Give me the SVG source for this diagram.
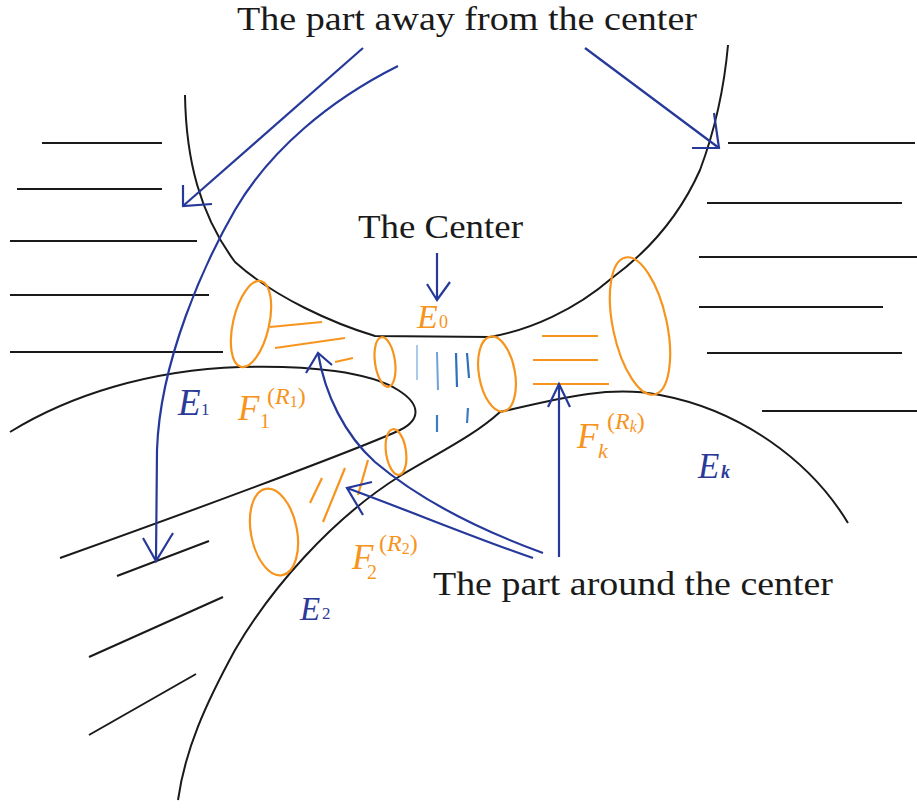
<svg xmlns="http://www.w3.org/2000/svg" width="917" height="809" viewBox="0 0 917 809">
<style>
.k{fill:none;stroke:#1a1a1a;stroke-width:2}
.o{fill:none;stroke:#f7941d;stroke-width:2.2}
.b{fill:none;stroke:#26399a;stroke-width:2.2;stroke-linejoin:miter}
.t{font-family:"Liberation Serif","Times New Roman",serif;fill:#1a1a1a}
.m{font-family:"Liberation Serif","Times New Roman",serif}
.or{fill:#f7941d}
.bl{fill:#2b3a98}
.i{font-style:italic}
</style>
<rect width="917" height="809" fill="#fff"/>

<g id="curves">
<path class="k" d="M185,95 C186,160 200,215 235,262 C275,298 335,324 375,336 L490,337 C530,330 575,310 612,278 C650,250 680,215 700,170 C715,130 724,90 728,45"/>
<path class="k" d="M10,432 C70,395 150,370 240,367 C310,365 370,372 398,390 C422,405 420,420 400,430 C370,444 250,490 60,558"/>
<path class="k" d="M500,412 C560,398 610,385 660,395 C740,410 810,460 848,523"/>
<path class="k" d="M500,412 C475,435 440,452 400,476 C330,520 270,590 235,650 C205,705 185,750 178,800"/>
</g>

<g id="hatching" class="k">
<line x1="42" y1="143" x2="162" y2="143"/>
<line x1="17" y1="189" x2="162" y2="189"/>
<line x1="10" y1="241" x2="197" y2="241"/>
<line x1="10" y1="295" x2="209" y2="295"/>
<line x1="10" y1="352" x2="223" y2="352"/>
<line x1="728" y1="143" x2="915" y2="143"/>
<line x1="707" y1="203" x2="902" y2="203"/>
<line x1="699" y1="257" x2="917" y2="257"/>
<line x1="699" y1="307" x2="883" y2="307"/>
<line x1="707" y1="353" x2="902" y2="353"/>
<line x1="762" y1="411" x2="917" y2="411"/>
<line x1="117" y1="576" x2="209" y2="541"/>
<line x1="89" y1="657" x2="223" y2="597"/>
<line x1="89" y1="735" x2="196" y2="674"/>
</g>

<g id="F1">
<ellipse class="o" cx="251" cy="324" rx="18" ry="44" transform="rotate(13 251 324)"/>
<line class="o" x1="270" y1="327" x2="322" y2="322"/>
<line class="o" x1="275" y1="348" x2="345" y2="338"/>
<line class="o" x1="335" y1="362" x2="353" y2="358"/>
<text class="m or i" x="238" y="420" font-size="35">F</text>
<text class="m or" x="260" y="428" font-size="20">1</text>
<text class="m or" x="267" y="404" font-size="24">(<tspan class="i">R</tspan><tspan font-size="16" dy="3">1</tspan><tspan dy="-3">)</tspan></text>
</g>

<g id="E0">
<ellipse class="o" cx="385" cy="362" rx="10" ry="25" transform="rotate(-8 385 362)"/>
<ellipse class="o" cx="497" cy="374" rx="18" ry="38" transform="rotate(-10 497 374)"/>
<line x1="417" y1="345" x2="417" y2="380" stroke="#a9cbeb" stroke-width="2"/>
<line x1="437" y1="352" x2="438" y2="390" stroke="#6fa3d8" stroke-width="2"/>
<line x1="456" y1="353" x2="457" y2="387" stroke="#2f6fbe" stroke-width="2.2"/>
<line x1="467" y1="353" x2="469" y2="378" stroke="#2f6fbe" stroke-width="2.2"/>
<line x1="437" y1="415" x2="437" y2="432" stroke="#3b7cc6" stroke-width="2.2"/>
<line x1="468" y1="408" x2="467" y2="423" stroke="#3b7cc6" stroke-width="2.2"/>
<text class="m or i" x="417" y="328" font-size="34">E</text>
<text class="m or" x="439" y="328" font-size="18">0</text>
</g>

<g id="F2">
<ellipse class="o" cx="396" cy="452" rx="10" ry="23" transform="rotate(-8 396 452)"/>
<ellipse class="o" cx="274" cy="532" rx="23" ry="44" transform="rotate(-11 274 532)"/>
<line class="o" x1="310" y1="503" x2="322" y2="478"/>
<line class="o" x1="323" y1="522" x2="345" y2="468"/>
<line class="o" x1="358" y1="495" x2="368" y2="460"/>
<text class="m or i" x="352" y="569" font-size="35">F</text>
<text class="m or" x="367" y="579" font-size="20">2</text>
<text class="m or" x="379" y="551" font-size="24">(<tspan class="i">R</tspan><tspan font-size="16" dy="3">2</tspan><tspan dy="-3">)</tspan></text>
</g>

<g id="Fk">
<ellipse class="o" cx="640" cy="326" rx="27" ry="70" transform="rotate(-12 640 326)"/>
<line class="o" x1="542" y1="336" x2="598" y2="336"/>
<line class="o" x1="533" y1="360" x2="598" y2="360"/>
<line class="o" x1="533" y1="384" x2="609" y2="384"/>
<text class="m or i" x="577" y="448" font-size="35">F</text>
<text class="m or i" x="598" y="458" font-size="22">k</text>
<text class="m or" x="607" y="429" font-size="24">(<tspan class="i">R</tspan><tspan class="i" font-size="16" dy="3">k</tspan><tspan dy="-3">)</tspan></text>
</g>

<g id="E1"><text class="m bl i" x="178" y="415" font-size="37">E</text><text class="m bl" x="201" y="415" font-size="17">1</text></g>
<g id="E2"><text class="m bl i" x="300" y="620" font-size="33">E</text><text class="m bl" x="322" y="619" font-size="17">2</text></g>
<g id="Ek"><text class="m bl i" x="698" y="478" font-size="35">E</text><text class="m bl i" x="721" y="478" font-size="18" font-weight="bold">k</text></g>

<g id="labels">
<text class="t" x="237" y="30" font-size="33" textLength="460" lengthAdjust="spacingAndGlyphs">The part away from the center</text>
<text class="t" x="358" y="238" font-size="34" textLength="165" lengthAdjust="spacingAndGlyphs">The Center</text>
<text class="t" x="433" y="595" font-size="34" textLength="400" lengthAdjust="spacingAndGlyphs">The part around the center</text>
</g>

<g id="connectors" class="b">
<line x1="363" y1="48" x2="183" y2="206"/>
<polyline points="183,185 183,206 212,204"/>
<path d="M398,66 C330,100 270,150 235,210 C205,262 160,360 157,450 L156,560"/>
<polyline points="143,538 156,561 173,533"/>
<line x1="585" y1="48" x2="719" y2="148"/>
<polyline points="714,113 719,148 692,148"/>
<line x1="437" y1="253" x2="437" y2="300"/>
<polyline points="427,284 437,300 450,282"/>
<path d="M543,553 C480,530 420,500 375,462 C345,435 325,395 318,353"/>
<polyline points="306,373 318,353 332,365"/>
<path d="M533,558 C480,540 420,515 347,488"/>
<polyline points="372,482 347,488 363,515"/>
<line x1="559" y1="557" x2="559" y2="384"/>
<polyline points="548,407 559,384 570,407"/>
</g>
</svg>
